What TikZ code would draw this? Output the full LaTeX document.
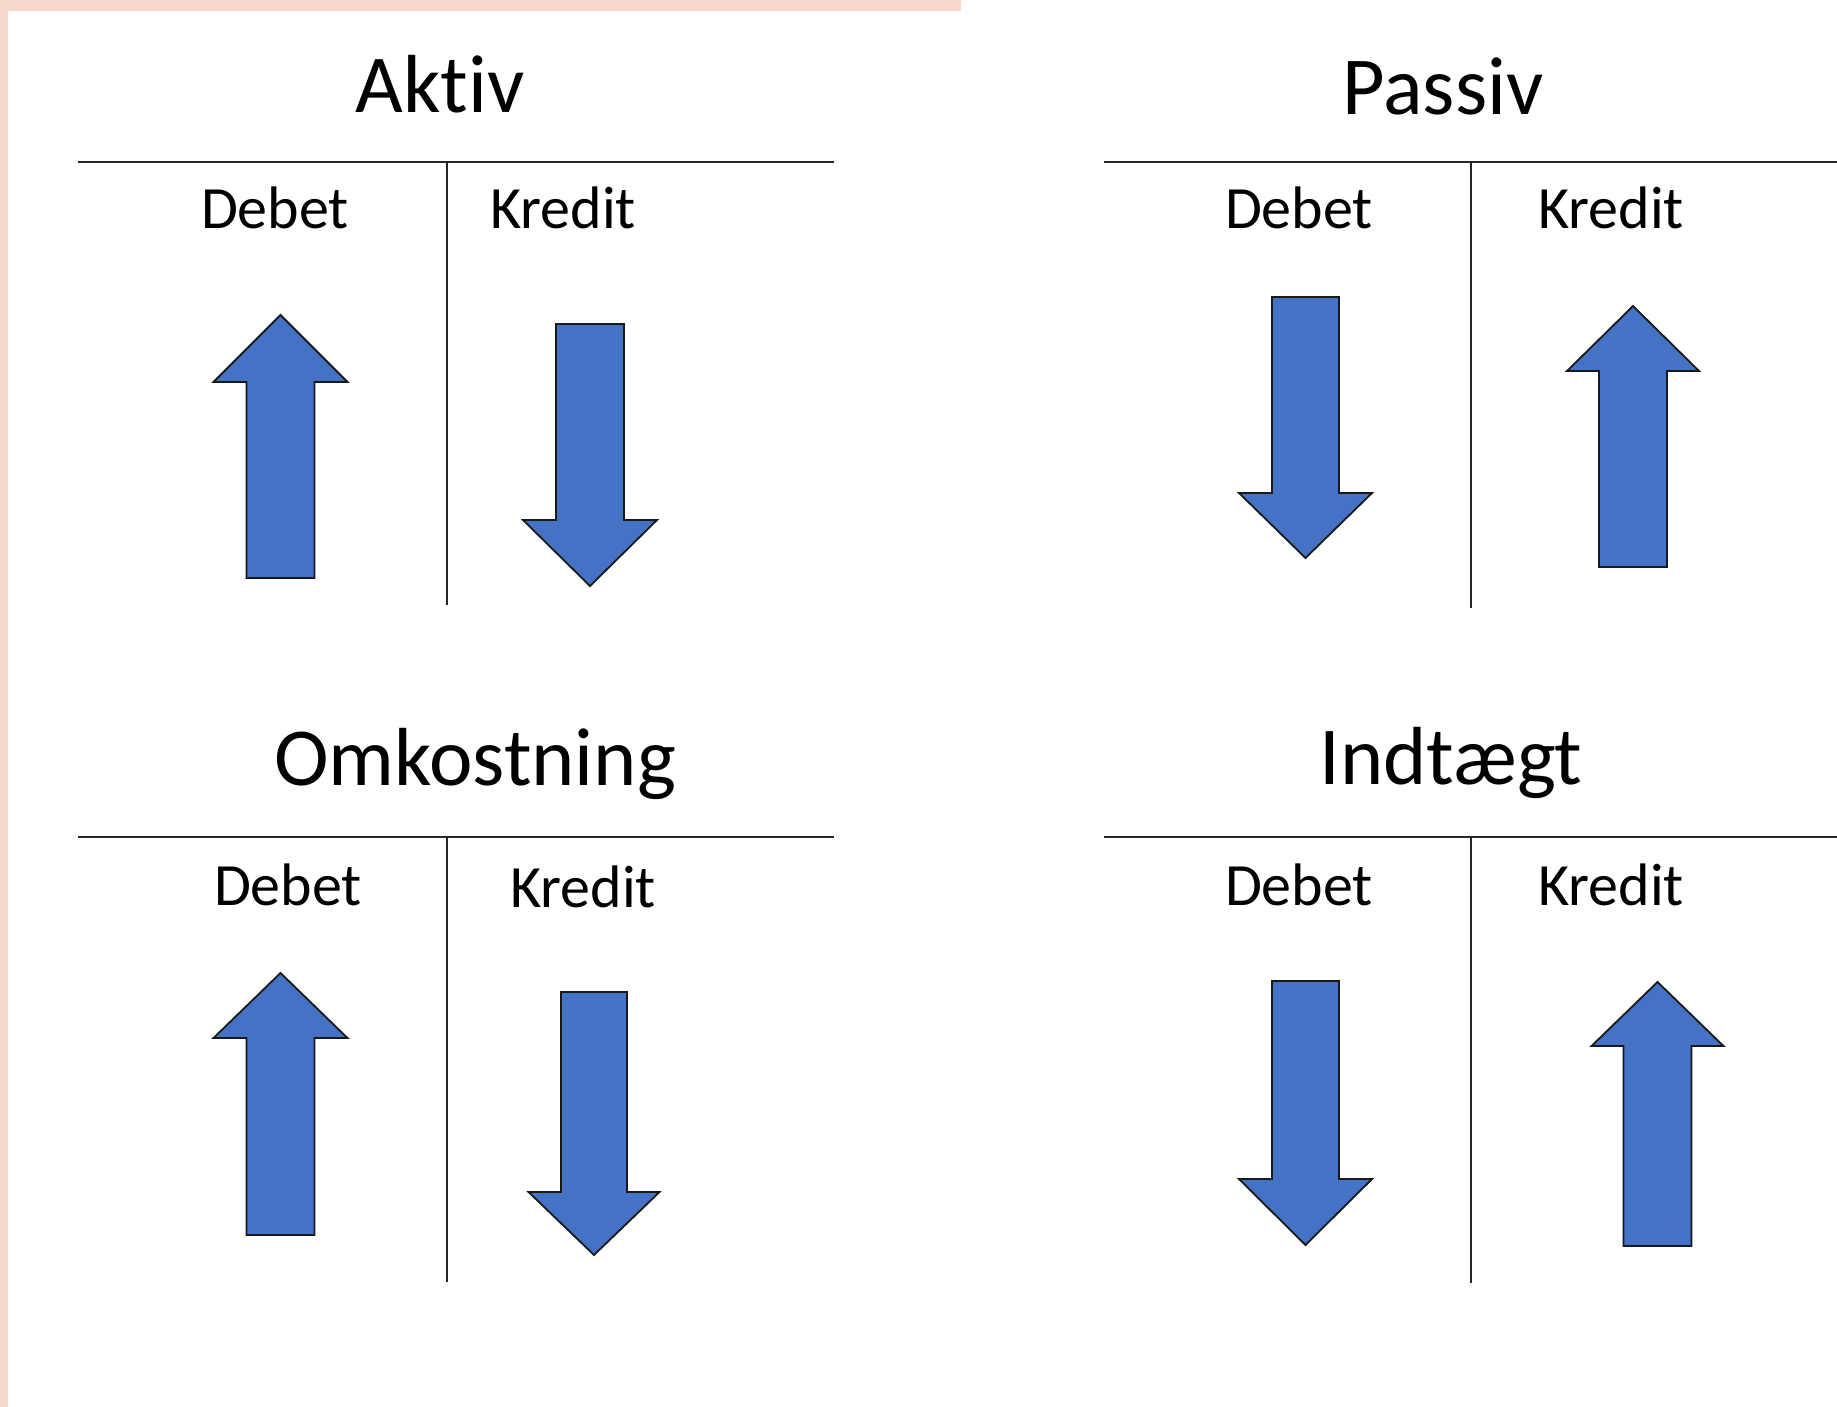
\documentclass[tikz,border=0pt]{standalone}
\usepackage{fontspec}
\setmainfont{Carlito}[Ligatures=NoCommon]
\definecolor{edgepink}{HTML}{F5D9CB}
\definecolor{officeblue}{HTML}{4472C4}
\tikzset{
  title/.style={anchor=base, inner sep=0pt, font=\fontsize{41.2}{50}\selectfont},
  side/.style={anchor=base, inner sep=0pt, font=\fontsize{30}{36}\selectfont},
  tline/.style={line width=1pt, black!85},
  blockarrow/.style={fill=officeblue, draw=black!90, line width=0.9pt, line join=miter},
}
% block arrow: #1 centre x, #2 tip y, #3 head base y, #4 tail y, #5 half head width, #6 half shaft width
\newcommand\blockarrow[6]{%
  \draw[blockarrow] (#1,#2) -- (#1+#5,#3) -- (#1+#6,#3) -- (#1+#6,#4)
    -- (#1-#6,#4) -- (#1-#6,#3) -- (#1-#5,#3) -- cycle;}
\begin{document}
\begin{tikzpicture}[x=0.5pt, y=-0.5pt]
\useasboundingbox (0,0) rectangle (1837,1407);
\fill[white] (0,0) rectangle (1837,1407);
% page edge
\fill[edgepink] (0,0) rectangle (8,1407);
\fill[edgepink] (0,0) rectangle (961,11);

% ---- Aktiv ----
\node[title] (aktiv) at (440,113) {Aktiv};
\draw[tline] (78,162) -- (834,162);
\draw[tline] (447,162) -- (447,605);
\node[side] (aktivD) at (275,229) {Debet};
\node[side] (aktivK) at (563,229) {Kredit};
\blockarrow{280.5}{315}{382}{578}{67}{34}
\blockarrow{590}{586}{520}{324}{67}{34}

% ---- Passiv ----
\node[title] (passiv) at (1443,115) {Passiv};
\draw[tline] (1104,162) -- (1837,162);
\draw[tline] (1471,162) -- (1471,608);
\node[side] (passivD) at (1299,229) {Debet};
\node[side] (passivK) at (1611,229) {Kredit};
\blockarrow{1305.5}{558}{493}{297}{66.5}{33.5}
\blockarrow{1633}{306}{371}{567}{66}{34}

% ---- Omkostning ----
\node[title] (omk) at (475,785) {Omkostning};
\draw[tline] (78,837) -- (834,837);
\draw[tline] (447,837) -- (447,1282);
\node[side] (omkD) at (288,905) {Debet};
\node[side] (omkK) at (583,907) {Kredit};
\blockarrow{280.5}{973}{1038}{1235}{67}{34}
\blockarrow{594}{1255}{1192}{992}{65.5}{33}

% ---- Indtaegt ----
\node[title] (indt) at (1451,784) {Indtægt};
\draw[tline] (1104,837) -- (1837,837);
\draw[tline] (1471,837) -- (1471,1283);
\node[side] (indtD) at (1299,905) {Debet};
\node[side] (indtK) at (1611,905) {Kredit};
\blockarrow{1305.5}{1245}{1179}{981}{66.5}{33.5}
\blockarrow{1657.5}{982}{1046}{1246}{66}{34}
\end{tikzpicture}
\end{document}
